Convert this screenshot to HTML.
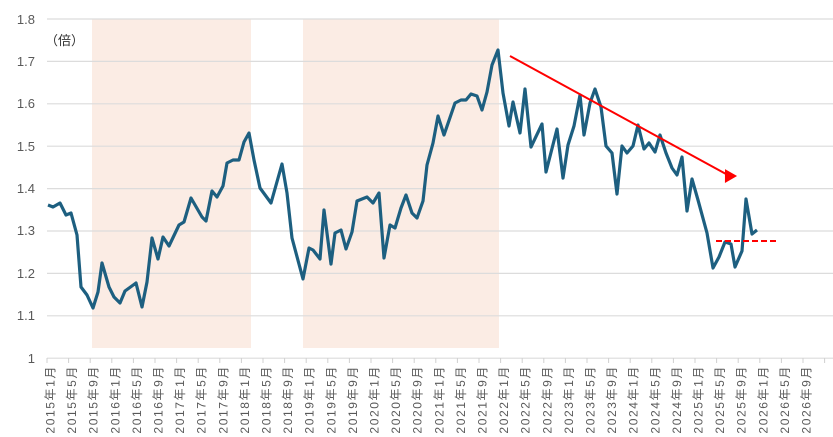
<!DOCTYPE html>
<html><head><meta charset="utf-8"><style>
body{margin:0;background:#fff;}
svg{display:block;font-family:"Liberation Sans","Noto Sans CJK JP",sans-serif;}
</style></head><body>
<svg width="833" height="437" viewBox="0 0 833 437" xmlns="http://www.w3.org/2000/svg">
<rect x="92" y="19" width="159" height="329" fill="#fbece4"/>
<rect x="303" y="19" width="196" height="329" fill="#fbece4"/>
<g stroke="#dcdcdc" stroke-width="1.2">
<line x1="47" y1="19" x2="833" y2="19"/>
<line x1="47" y1="61.4" x2="833" y2="61.4"/>
<line x1="47" y1="103.8" x2="833" y2="103.8"/>
<line x1="47" y1="146.2" x2="833" y2="146.2"/>
<line x1="47" y1="188.6" x2="833" y2="188.6"/>
<line x1="47" y1="231" x2="833" y2="231"/>
<line x1="47" y1="273.4" x2="833" y2="273.4"/>
<line x1="47" y1="315.8" x2="833" y2="315.8"/>
<line x1="47" y1="358.2" x2="833" y2="358.2"/>
</g>
<g font-size="13" fill="#595959" text-anchor="end">
<text x="35" y="24">1.8</text><text x="35" y="66">1.7</text><text x="35" y="108">1.6</text>
<text x="35" y="151">1.5</text><text x="35" y="193">1.4</text><text x="35" y="235">1.3</text>
<text x="35" y="278">1.2</text><text x="35" y="320">1.1</text><text x="35" y="363">1</text>
</g>
<text x="45" y="45" font-size="13" fill="#333">（倍）</text>
<g stroke="#d0d0d0" stroke-width="1">
<line x1="47" y1="358" x2="47" y2="363"/><line x1="68.6" y1="358" x2="68.6" y2="363"/><line x1="90.2" y1="358" x2="90.2" y2="363"/><line x1="111.8" y1="358" x2="111.8" y2="363"/><line x1="133.4" y1="358" x2="133.4" y2="363"/><line x1="155" y1="358" x2="155" y2="363"/><line x1="176.6" y1="358" x2="176.6" y2="363"/><line x1="198.2" y1="358" x2="198.2" y2="363"/><line x1="219.8" y1="358" x2="219.8" y2="363"/><line x1="241.4" y1="358" x2="241.4" y2="363"/><line x1="263" y1="358" x2="263" y2="363"/><line x1="284.6" y1="358" x2="284.6" y2="363"/><line x1="306.2" y1="358" x2="306.2" y2="363"/><line x1="327.8" y1="358" x2="327.8" y2="363"/><line x1="349.4" y1="358" x2="349.4" y2="363"/><line x1="371" y1="358" x2="371" y2="363"/><line x1="392.6" y1="358" x2="392.6" y2="363"/><line x1="414.2" y1="358" x2="414.2" y2="363"/><line x1="435.8" y1="358" x2="435.8" y2="363"/><line x1="457.4" y1="358" x2="457.4" y2="363"/><line x1="479" y1="358" x2="479" y2="363"/><line x1="500.6" y1="358" x2="500.6" y2="363"/><line x1="522.2" y1="358" x2="522.2" y2="363"/><line x1="543.8" y1="358" x2="543.8" y2="363"/><line x1="565.4" y1="358" x2="565.4" y2="363"/><line x1="587" y1="358" x2="587" y2="363"/><line x1="608.6" y1="358" x2="608.6" y2="363"/><line x1="630.2" y1="358" x2="630.2" y2="363"/><line x1="651.8" y1="358" x2="651.8" y2="363"/><line x1="673.4" y1="358" x2="673.4" y2="363"/><line x1="695" y1="358" x2="695" y2="363"/><line x1="716.6" y1="358" x2="716.6" y2="363"/><line x1="738.2" y1="358" x2="738.2" y2="363"/><line x1="759.8" y1="358" x2="759.8" y2="363"/><line x1="781.4" y1="358" x2="781.4" y2="363"/><line x1="803" y1="358" x2="803" y2="363"/><line x1="824.6" y1="358" x2="824.6" y2="363"/>
</g>
<g font-size="12" fill="#595959" text-anchor="end" letter-spacing="1.6">
<text transform="translate(54.5,365) rotate(-90)">2015年1月</text>
<text transform="translate(76.1,365) rotate(-90)">2015年5月</text>
<text transform="translate(97.7,365) rotate(-90)">2015年9月</text>
<text transform="translate(119.3,365) rotate(-90)">2016年1月</text>
<text transform="translate(140.9,365) rotate(-90)">2016年5月</text>
<text transform="translate(162.5,365) rotate(-90)">2016年9月</text>
<text transform="translate(184.1,365) rotate(-90)">2017年1月</text>
<text transform="translate(205.7,365) rotate(-90)">2017年5月</text>
<text transform="translate(227.3,365) rotate(-90)">2017年9月</text>
<text transform="translate(248.9,365) rotate(-90)">2018年1月</text>
<text transform="translate(270.5,365) rotate(-90)">2018年5月</text>
<text transform="translate(292.1,365) rotate(-90)">2018年9月</text>
<text transform="translate(313.7,365) rotate(-90)">2019年1月</text>
<text transform="translate(335.3,365) rotate(-90)">2019年5月</text>
<text transform="translate(356.9,365) rotate(-90)">2019年9月</text>
<text transform="translate(378.5,365) rotate(-90)">2020年1月</text>
<text transform="translate(400.1,365) rotate(-90)">2020年5月</text>
<text transform="translate(421.7,365) rotate(-90)">2020年9月</text>
<text transform="translate(443.3,365) rotate(-90)">2021年1月</text>
<text transform="translate(464.9,365) rotate(-90)">2021年5月</text>
<text transform="translate(486.5,365) rotate(-90)">2021年9月</text>
<text transform="translate(508.1,365) rotate(-90)">2022年1月</text>
<text transform="translate(529.7,365) rotate(-90)">2022年5月</text>
<text transform="translate(551.3,365) rotate(-90)">2022年9月</text>
<text transform="translate(572.9,365) rotate(-90)">2023年1月</text>
<text transform="translate(594.5,365) rotate(-90)">2023年5月</text>
<text transform="translate(616.1,365) rotate(-90)">2023年9月</text>
<text transform="translate(637.7,365) rotate(-90)">2024年1月</text>
<text transform="translate(659.3,365) rotate(-90)">2024年5月</text>
<text transform="translate(680.9,365) rotate(-90)">2024年9月</text>
<text transform="translate(702.5,365) rotate(-90)">2025年1月</text>
<text transform="translate(724.1,365) rotate(-90)">2025年5月</text>
<text transform="translate(745.7,365) rotate(-90)">2025年9月</text>
<text transform="translate(767.3,365) rotate(-90)">2026年1月</text>
<text transform="translate(788.9,365) rotate(-90)">2026年5月</text>
<text transform="translate(810.5,365) rotate(-90)">2026年9月</text>
</g>
<polyline fill="none" stroke="#1d5f80" stroke-width="3.2" stroke-linejoin="round" points="48,205 53,207 60,203 66,215 71,213 77,235 81,287 87,295 93,308 98,292 102,263 109,287 114,297 120,303 125,291 136,283 142,307 147,282 152,238 158,259 163,237 169,246 179,225 184,222 191,198 202,217 206,221 212,191 217,197 223,186 227,163 233,160 239,160 244,142 249,133 254,160 260,188 271,203 282,164 287,193 292,238 303,279 309,248 313,250 320,259 324,210 331,264 335,233 341,230 346,249 352,232 357,201 367,197 373,203 379,193 384,258 390,225 395,228 401,208 406,195 412,213 417,218 423,201 427,165 433,143 438,116 444,135 455,103 461,100 466,100 471,94 477,96 482,110 487,92 492,65 498,50 503,93 509,126 513,102 520,133 525,89 531,147 542,124 546,172 557,129 563,178 568,145 574,126 580,95 584,135 590,103 595,89 601,107 606,146 612,153 617,194 622,146 627,153 633,146 638,125 644,149 649,143 655,152 660,135 666,153 672,168 677,175 682,157 687,211 692,179 698,200 707,233 713,268 719,257 725,242 731,244 735,267 742,251 746,199 752,234 757,230"/>
<line x1="510" y1="56" x2="726" y2="174" stroke="#ff0000" stroke-width="2"/>
<polygon points="736,180 722,180 729,168" fill="#ff0000" transform="rotate(-30 729 176)"/>
<line x1="716" y1="241" x2="779" y2="241" stroke="#ff0000" stroke-width="2" stroke-dasharray="6,3"/>
</svg>
</body></html>
